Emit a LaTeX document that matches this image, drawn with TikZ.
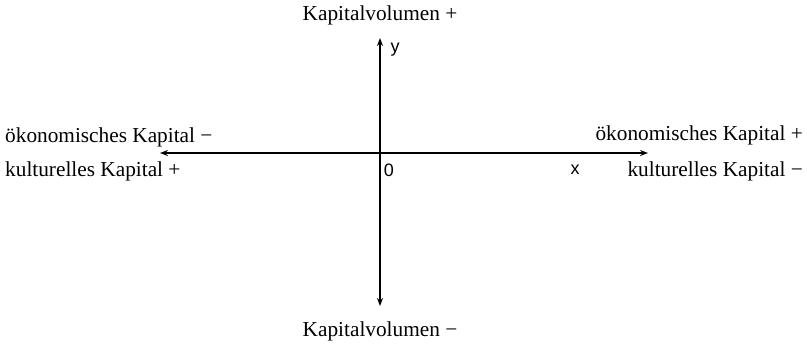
\documentclass[tikz,border=0pt]{standalone}
\usepackage{fontspec}
\setmainfont{Liberation Serif}
\newfontfamily\labsans{Liberation Sans}
\usetikzlibrary{arrows.meta}
\begin{document}
\begin{tikzpicture}[x=1pt,y=-1pt,
  lbl/.style={inner sep=0pt,font=\fontsize{21.3}{24}\selectfont},
  axlbl/.style={inner sep=0pt,font=\labsans\fontsize{18}{20}\selectfont},
  axis/.style={line width=2pt,-{Stealth[length=8pt,width=6pt]}}]
\useasboundingbox (0,0) rectangle (807,346);
\coordinate (O) at (380,153);
\coordinate (L) at (160,153);
\coordinate (R) at (648,153);
\coordinate (T) at (380,38);
\coordinate (B) at (380,306);
\draw[axis] (O) -- (L);
\draw[axis] (O) -- (R);
\draw[axis] (O) -- (T);
\draw[axis] (O) -- (B);
\node[lbl,anchor=west] (el) at (5,137) {ökonomisches Kapital −};
\node[lbl,anchor=west] (kl) at (5,171) {kulturelles Kapital +};
\node[lbl,anchor=east] (er) at (803,135) {ökonomisches Kapital +};
\node[lbl,anchor=east] (kr) at (803,171) {kulturelles Kapital −};
\node[lbl] (top) at (380,15) {Kapitalvolumen +};
\node[lbl] (bot) at (380,331) {Kapitalvolumen −};
\node[axlbl] (ylab) at (395,50) {y};
\node[axlbl] (zero) at (389,170) {0};
\node[axlbl] (xlab) at (575,170) {x};
\end{tikzpicture}
\end{document}
